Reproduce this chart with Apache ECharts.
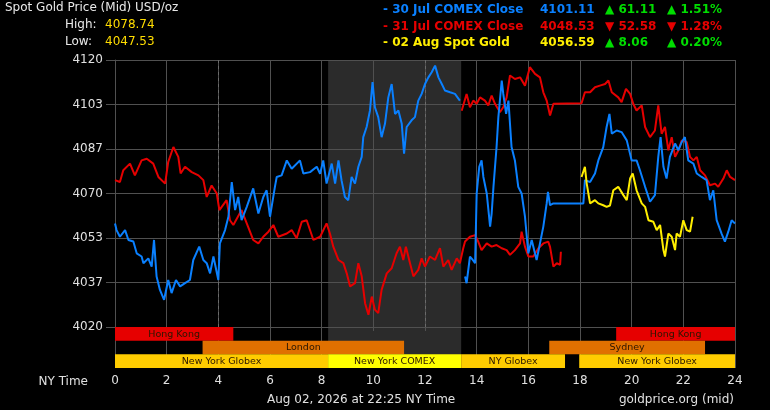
<!DOCTYPE html>
<html>
<head>
<meta charset="utf-8">
<script src="https://cdn.jsdelivr.net/npm/echarts@6/dist/echarts.min.js"></script>
<style>
html,body{margin:0;padding:0;background:#000;}
#chart{width:770px;height:410px;}
</style>
</head>
<body>
<div id="chart"></div>
<script>
// ---------- DATA ----------
// price traces: [NY hour, USD/oz]
const jul30Early = [[0.00,4058.8],[0.06,4056.3],[0.19,4053.8],[0.39,4056.3],[0.52,4052.6],[0.71,4052],[0.84,4047.6],[1.03,4046.4],[1.10,4043.9],[1.29,4045.7],[1.42,4042.6],[1.51,4052.6],[1.61,4038.9],[1.74,4033.9],[1.90,4030.2],[2.06,4037.6],[2.19,4032.7],[2.36,4037.6],[2.52,4035.2],[2.71,4036.4],[2.90,4037.6],[3.03,4045.1],[3.26,4050.1],[3.42,4045.1],[3.55,4043.9],[3.68,4040.1],[3.81,4046.4],[4.00,4037.6],[4.06,4051.3],[4.26,4056.3],[4.39,4061.3],[4.52,4074.3],[4.65,4063.8],[4.77,4068.7],[4.90,4060],[5.10,4065],[5.35,4071.9],[5.55,4062.5],[5.74,4068.7],[5.87,4071.2],[6.00,4061.3],[6.19,4072.5],[6.26,4076.2],[6.45,4076.8],[6.65,4082.4],[6.84,4079.3],[7.16,4082.4],[7.29,4077.5],[7.55,4078],[7.81,4080],[7.94,4077.4],[8.06,4082.4],[8.19,4073.7],[8.39,4081.2],[8.52,4073.7],[8.65,4082.4],[8.77,4074.9],[8.90,4068.7],[9.03,4067.5],[9.16,4076.2],[9.29,4073.7],[9.42,4080],[9.55,4083.7],[9.61,4091.1],[9.74,4094.9],[9.87,4101.1],[9.97,4111.7],[10.06,4102.3],[10.19,4098.6],[10.32,4091.1],[10.45,4096.1],[10.58,4106],[10.71,4111],[10.84,4099.8],[10.97,4101.1],[11.10,4096.1],[11.19,4084.9],[11.29,4094.9],[11.48,4097.4],[11.61,4098.6],[11.74,4104.8],[11.87,4107.3],[12.00,4111],[12.13,4113.5],[12.26,4115.4],[12.39,4117.9],[12.52,4113.5],[12.65,4111],[12.77,4108.6],[12.97,4107.9],[13.16,4107.3],[13.35,4104.8]];
const jul30Late = [[13.55,4038.9],[13.61,4036.4],[13.74,4046.4],[13.85,4045.1],[13.94,4043.9],[14.00,4070],[14.10,4080],[14.19,4082.4],[14.26,4076.2],[14.39,4070],[14.52,4057.6],[14.58,4062.5],[14.65,4072.5],[14.77,4087.4],[14.84,4098.6],[14.97,4112.3],[15.03,4107.3],[15.14,4099.8],[15.23,4104.8],[15.35,4087.4],[15.48,4082.4],[15.61,4072.5],[15.74,4070],[15.87,4061.3],[16.00,4047.6],[16.13,4052.6],[16.32,4045.1],[16.45,4051.3],[16.58,4057.6],[16.71,4066.3],[16.76,4070.6],[16.84,4065.6],[16.97,4066.3],[18.13,4066.3],[18.19,4075],[18.39,4074.3],[18.58,4077.5],[18.71,4082.4],[18.90,4087.4],[19.03,4094.9],[19.14,4099.8],[19.23,4092.4],[19.42,4093.6],[19.61,4093],[19.81,4089.9],[20.00,4082.4],[20.19,4082.4],[20.32,4078.7],[20.52,4072.5],[20.71,4066.9],[20.90,4069.4],[21.03,4083.7],[21.12,4091.1],[21.23,4080],[21.35,4075.6],[21.48,4083.7],[21.68,4088.7],[21.81,4086.2],[21.94,4089.3],[22.06,4091.1],[22.19,4082.4],[22.39,4081.2],[22.52,4077.5],[22.71,4076.2],[22.90,4075],[23.03,4067.5],[23.16,4071.2],[23.29,4060],[23.48,4055],[23.61,4052],[23.74,4055.7],[23.87,4060],[24.00,4058.8]];
const jul31Low = [[0.00,4075],[0.19,4074.3],[0.32,4078.7],[0.58,4081.2],[0.77,4076.8],[1.03,4082.4],[1.23,4083],[1.48,4081.2],[1.68,4076.2],[1.94,4073.7],[2.06,4081.8],[2.26,4087.4],[2.45,4083.7],[2.54,4077.5],[2.71,4080],[2.97,4078],[3.23,4076.8],[3.42,4075],[3.55,4068.7],[3.74,4073],[3.94,4070],[4.04,4063.8],[4.32,4067.5],[4.45,4060],[4.58,4058.2],[4.90,4063.8],[5.10,4058.8],[5.35,4052.6],[5.55,4051.3],[5.74,4053.8],[5.94,4055.7],[6.13,4058.2],[6.32,4053.8],[6.65,4055],[6.84,4056.3],[7.03,4053.2],[7.23,4059.4],[7.42,4060],[7.68,4052.6],[7.94,4053.8],[8.13,4057.6],[8.19,4058.8],[8.32,4055],[8.45,4050.1],[8.65,4045.1],[8.84,4043.9],[8.97,4040.1],[9.10,4035.2],[9.29,4036.4],[9.42,4043.9],[9.55,4039],[9.68,4028.9],[9.81,4024.6],[9.94,4031.4],[10.06,4026.5],[10.19,4025.2],[10.32,4033.9],[10.52,4040.1],[10.71,4042],[10.90,4047.6],[11.03,4050.1],[11.16,4045.1],[11.26,4050.1],[11.42,4043.9],[11.55,4039],[11.74,4041.4],[11.87,4045.7],[12.00,4042.6],[12.19,4046.4],[12.39,4045.1],[12.58,4049.5],[12.71,4042.6],[12.90,4045.1],[13.03,4041.4],[13.23,4045.7],[13.35,4043.9],[13.48,4049.5],[13.55,4052],[13.74,4053.8],[13.94,4054.4],[14.06,4052],[14.19,4048.8],[14.39,4051.3],[14.58,4050.1],[14.77,4050.7],[14.97,4049.5],[15.16,4048.8],[15.29,4047],[15.48,4048.8],[15.68,4051.3],[15.74,4055.7],[15.87,4050.1],[16.00,4046.4],[16.19,4046.4],[16.39,4049.5],[16.58,4051.3],[16.77,4052],[16.84,4050],[16.97,4042.6],[17.10,4043.9],[17.23,4043.3],[17.26,4048.2]];
const jul31High = [[13.42,4101],[13.61,4107.3],[13.74,4102.3],[13.87,4104.8],[14.00,4103.6],[14.13,4106],[14.32,4104.8],[14.45,4103],[14.58,4106.7],[14.71,4103.6],[14.90,4100.5],[15.03,4102.3],[15.16,4106],[15.29,4114.2],[15.48,4112.9],[15.68,4113.5],[15.87,4110.4],[16.06,4117.3],[16.26,4114.8],[16.45,4113.5],[16.58,4107.9],[16.71,4104.8],[16.84,4099.2],[16.97,4103.6],[18.06,4103.8],[18.19,4107.9],[18.39,4107.9],[18.58,4109.8],[18.77,4110.4],[18.97,4111],[19.10,4112.3],[19.23,4107.9],[19.48,4106],[19.61,4104.2],[19.78,4109.2],[19.94,4107.3],[20.06,4103.6],[20.19,4101.1],[20.39,4103],[20.52,4094.9],[20.71,4091.1],[20.90,4093.6],[21.03,4103],[21.16,4092.4],[21.29,4094.9],[21.42,4086.2],[21.55,4091.1],[21.68,4083.7],[21.81,4086.2],[21.94,4089.9],[22.13,4089.3],[22.26,4083.7],[22.39,4082.4],[22.52,4083.7],[22.65,4078.7],[22.84,4076.8],[23.03,4073.1],[23.23,4073.7],[23.35,4072.5],[23.55,4075.6],[23.68,4078.7],[23.81,4076.2],[24.00,4075]];
const aug02Spot = [[18.06,4076.2],[18.19,4080],[18.26,4073.7],[18.39,4066.3],[18.58,4067.5],[18.71,4066.3],[18.90,4065.6],[19.03,4065],[19.16,4065.5],[19.29,4071.2],[19.48,4072.5],[19.68,4069.4],[19.81,4067.5],[19.94,4075.6],[20.04,4077.5],[20.19,4071.2],[20.39,4066.3],[20.52,4065],[20.65,4060],[20.84,4059.4],[20.97,4056.3],[21.10,4058.2],[21.23,4048.8],[21.29,4046.4],[21.42,4055],[21.55,4053.8],[21.68,4048.8],[21.74,4055],[21.87,4053.8],[22.00,4060],[22.13,4056.3],[22.26,4055.7],[22.36,4061.3]];

// trading sessions: name, start hour, end hour, row
const sessionNames = ['Hong Kong','Hong Kong','London','Sydney','New York Globex','New York COMEX','NY Globex','New York Globex'];
const sessionStart = [0, 19.4, 3.39, 16.81, 0, 8.25, 13.4, 17.97];
const sessionEnd   = [4.58, 24, 11.19, 22.84, 8.25, 13.4, 17.42, 24];
const sessionRow   = [0, 0, 1, 1, 2, 2, 2, 2];
const comexWindow  = [8.25, 13.4];

// axes
const yMin = 4020, yMax = 4120, ySteps = 6;
const xMin = 0, xMax = 24, xStep = 2;

// header texts
const titleText = 'Spot Gold Price (Mid) USD/oz';
const highValue = '4078.74';
const lowValue = '4047.53';
const legendRows = [
  ['- 30 Jul COMEX Close', '4101.11', '\u25B2 61.11', '\u25B2 1.51%'],
  ['- 31 Jul COMEX Close', '4048.53', '\u25BC 52.58', '\u25BC 1.28%'],
  ['- 02 Aug Spot Gold',   '4056.59', '\u25B2 8.06',  '\u25B2 0.20%']
];
const stampText = 'Aug 02, 2026 at 22:25 NY Time';
const sourceText = 'goldprice.org (mid)';

// ---------- STYLE ----------
const BLUE = '#0a80ff', RED = '#e60000', YEL = '#ffee00', GREEN = '#00dd00';
const FONT = 'DejaVu Sans';
const sessionColor = {'Hong Kong':'#e60000','London':'#e07000','Sydney':'#e07000','New York Globex':'#ffcc00','NY Globex':'#ffcc00','New York COMEX':'#ffff00'};
const rowColors = [[BLUE,BLUE,GREEN,GREEN],[RED,RED,RED,RED],[YEL,YEL,GREEN,GREEN]];
const colX = [383, 540, 605, 667];
const rowY = [10, 26.7, 43.3];

const chart = echarts.init(document.getElementById('chart'), null, {renderer:'canvas'});

const sessionData = sessionNames.map((n,i)=>[sessionStart[i], sessionEnd[i], sessionRow[i], n]);

function lineSeries(data, color){
  return {type:'line', xAxisIndex:0, yAxisIndex:0, data:data, showSymbol:false, symbol:'none',
    lineStyle:{color:color, width:2}, z:5, silent:true, animation:false};
}

const graphics = [];
graphics.push({type:'text', left:5, top:2, style:{text:titleText, fill:'#e8e8e8', font:'12px '+FONT}});
graphics.push({type:'text', left:65, top:19, style:{text:'High:', fill:'#e8e8e8', font:'12px '+FONT}});
graphics.push({type:'text', left:105, top:19, style:{text:highValue, fill:'#ffdd00', font:'12px '+FONT}});
graphics.push({type:'text', left:65, top:36, style:{text:'Low:', fill:'#e8e8e8', font:'12px '+FONT}});
graphics.push({type:'text', left:105, top:36, style:{text:lowValue, fill:'#ffdd00', font:'12px '+FONT}});
legendRows.forEach((row,r)=>{
  row.forEach((t,c)=>{
    graphics.push({type:'text', x:colX[c], y:rowY[r], style:{text:t, fill:rowColors[r][c], font:'bold 12px '+FONT, verticalAlign:'middle'}});
  });
});
graphics.push({type:'text', x:88, y:382, style:{text:'NY Time', fill:'#e0e0e0', font:'12px '+FONT, align:'right', verticalAlign:'middle'}});
graphics.push({type:'text', x:267, y:400, style:{text:stampText, fill:'#e0e0e0', font:'12px '+FONT, verticalAlign:'middle'}});
graphics.push({type:'text', x:734, y:400, style:{text:sourceText, fill:'#e0e0e0', font:'12px '+FONT, align:'right', verticalAlign:'middle'}});

const option = {
  backgroundColor:'#000',
  animation:false,
  grid:[
    {left:115, right:35, top:60, height:267, containLabel:false},
    {left:115, right:35, top:327, height:41, containLabel:false}
  ],
  xAxis:[
    {gridIndex:0, type:'value', min:xMin, max:xMax, interval:xStep, z:2,
      axisLabel:{show:false}, axisTick:{show:false}, axisLine:{show:false},
      splitLine:{show:true, lineStyle:{color:'#505050', width:1}}},
    {gridIndex:1, type:'value', min:xMin, max:xMax, interval:xStep, z:1,
      axisLabel:{show:true, color:'#e0e0e0', fontSize:12, fontFamily:FONT, margin:7},
      axisTick:{show:true, length:4, lineStyle:{color:'#505050'}},
      axisLine:{show:true, lineStyle:{color:'#777', type:'dotted'}},
      splitLine:{show:true, lineStyle:{color:'#505050', width:1}}}
  ],
  yAxis:[
    {gridIndex:0, type:'value', min:yMin, max:yMax, interval:(yMax-yMin)/ySteps, z:2,
      axisLabel:{show:true, color:'#e0e0e0', fontSize:12, fontFamily:FONT, margin:12,
        formatter:v=>String(Math.round(v))},
      axisTick:{show:true, length:9, lineStyle:{color:'#505050'}},
      axisLine:{show:true, lineStyle:{color:'#505050'}},
      splitLine:{show:true, lineStyle:{color:'#505050', width:1}}},
    {gridIndex:1, type:'value', min:0, max:3, inverse:true, show:false,
      axisLabel:{show:false}, axisTick:{show:false}, axisLine:{show:false}, splitLine:{show:false}}
  ],
  series:[
    {type:'line', xAxisIndex:0, yAxisIndex:0, data:[], z:0, silent:true,
      markArea:{silent:true, itemStyle:{color:'#2b2b2b'}, data:[[{xAxis:comexWindow[0]},{xAxis:comexWindow[1]}]]},
      markLine:{silent:true, symbol:'none', label:{show:false}, lineStyle:{color:'#6a6a6a', type:[3,3], width:1},
        data:[{xAxis:4},{xAxis:12}]}},
    {type:'line', xAxisIndex:1, yAxisIndex:1, data:[], z:0, silent:true,
      markArea:{silent:true, itemStyle:{color:'#2b2b2b'}, data:[[{xAxis:comexWindow[0]},{xAxis:comexWindow[1]}]]}},
    {type:'custom', xAxisIndex:1, yAxisIndex:1, z:3, silent:true, data:sessionData,
      encode:{x:[0,1], y:2},
      renderItem:function(params, api){
        const s = api.value(0), e = api.value(1), r = api.value(2);
        const name = sessionData[params.dataIndex][3];
        const p0 = api.coord([s, r]);
        const p1 = api.coord([e, r+1]);
        return {type:'group', children:[
          {type:'rect', shape:{x:p0[0], y:p0[1], width:p1[0]-p0[0], height:p1[1]-p0[1]},
            style:{fill:sessionColor[name]}},
          {type:'text', style:{text:name, x:(p0[0]+p1[0])/2, y:(p0[1]+p1[1])/2+0.5, align:'center', verticalAlign:'middle',
            fill:'#2a1600', font:'9.5px '+FONT}}
        ]};
      }},
    lineSeries(jul31Low, RED),
    lineSeries(jul31High, RED),
    lineSeries(jul30Early, BLUE),
    lineSeries(jul30Late, BLUE),
    lineSeries(aug02Spot, YEL)
  ],
  graphic:graphics
};
chart.setOption(option);
</script>
</body>
</html>
